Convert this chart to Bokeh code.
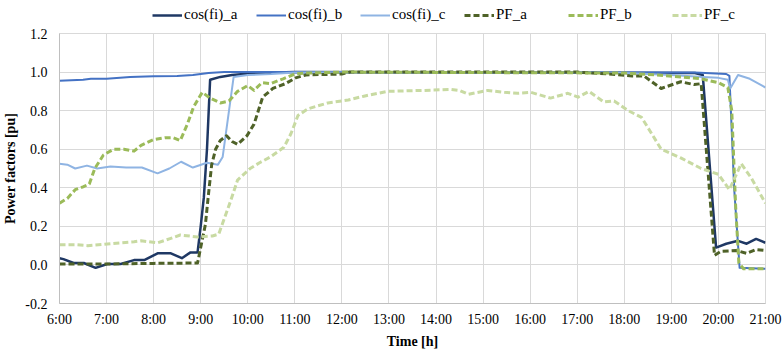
from bokeh.plotting import figure
from bokeh.layouts import column
from bokeh.models import Range1d, FixedTicker, NumeralTickFormatter, Legend, LegendItem
from bokeh.embed import file_html
from bokeh.resources import INLINE

# ---------------- data ----------------
x_ticks = [6, 7, 8, 9, 10, 11, 12, 13, 14, 15, 16, 17, 18, 19, 20, 21]
x_tick_labels = ["6:00", "7:00", "8:00", "9:00", "10:00", "11:00", "12:00", "13:00",
                 "14:00", "15:00", "16:00", "17:00", "18:00", "19:00", "20:00", "21:00"]
y_ticks = [-0.2, 0.0, 0.2, 0.4, 0.6, 0.8, 1.0, 1.2]

cos_a_t = ["6:00", "6:05", "6:18", "6:31", "6:46", "7:01", "7:18", "7:35", "7:48", "8:05",
           "8:22", "8:36", "8:47", "8:56", "9:00", "9:04", "9:08", "9:12", "9:25", "9:40",
           "9:55", "10:15", "11:00", "19:30", "19:40", "19:57", "20:10", "20:25", "20:36",
           "20:48", "21:00"]
cos_a_v = [0.035, 0.03, 0.01, 0.01, -0.015, 0.005, 0.005, 0.025, 0.025, 0.06,
           0.06, 0.035, 0.065, 0.065, 0.2, 0.35, 0.6, 0.96, 0.975, 0.985,
           0.99, 0.995, 1.0, 0.995, 0.985, 0.09, 0.11, 0.125, 0.11,
           0.135, 0.115]

cos_b_t = ["6:00", "6:30", "6:40", "7:00", "7:30", "8:00", "8:30", "8:50", "9:10", "9:30",
           "19:30", "20:10", "20:14", "20:20", "20:27", "21:00"]
cos_b_v = [0.955, 0.96, 0.965, 0.965, 0.975, 0.978, 0.98, 0.985, 0.995, 1.0,
           0.998, 0.99, 0.98, 0.4, -0.015, -0.02]

cos_c_t = ["6:00", "6:10", "6:20", "6:35", "6:48", "7:05", "7:25", "7:45", "8:05", "8:20",
           "8:35", "8:50", "9:08", "9:22", "9:28", "9:42", "10:00", "10:30", "11:00", "17:00",
           "18:00", "18:30", "19:00", "19:40", "20:00", "20:12", "20:15", "20:25", "20:40",
           "21:00"]
cos_c_v = [0.525, 0.52, 0.50, 0.515, 0.50, 0.51, 0.505, 0.505, 0.475, 0.50,
           0.535, 0.505, 0.53, 0.52, 0.56, 0.975, 0.985, 0.99, 0.998, 0.998,
           0.995, 0.99, 0.985, 0.975, 0.97, 0.96, 0.915, 0.985, 0.965,
           0.92]

pf_a_t = ["6:00", "7:00", "8:00", "8:56", "9:00", "9:06", "9:10", "9:14", "9:19", "9:25",
          "9:33", "9:40", "9:47", "9:59", "10:08", "10:19", "10:32", "10:48", "11:01", "11:14",
          "12:00", "12:10", "17:00", "17:40", "18:10", "18:25", "18:47", "19:12", "19:29",
          "19:38", "19:55", "20:03", "20:23", "20:36", "20:48", "21:00"]
pf_a_v = [0.005, 0.005, 0.008, 0.01, 0.09, 0.21, 0.37, 0.52, 0.6, 0.645,
          0.67, 0.64, 0.625, 0.67, 0.73, 0.87, 0.915, 0.94, 0.97, 0.985,
          0.99, 1.0, 1.0, 0.99, 0.98, 0.98, 0.915, 0.95, 0.935,
          0.94, 0.05, 0.07, 0.075, 0.06, 0.08, 0.075]

pf_b_t = ["6:00", "6:10", "6:20", "6:30", "6:38", "6:45", "6:56", "7:09", "7:22", "7:35",
          "7:44", "8:00", "8:15", "8:25", "8:34", "8:43", "8:51", "9:02", "9:12", "9:25",
          "9:36", "9:47", "10:00", "10:08", "10:18", "10:29", "10:45", "11:00", "11:15",
          "12:00", "18:00", "18:40", "19:12", "19:38", "20:00", "20:12", "20:17", "20:22",
          "20:26", "20:32", "21:00"]
pf_b_v = [0.32, 0.345, 0.39, 0.405, 0.42, 0.50, 0.57, 0.60, 0.60, 0.59,
          0.62, 0.65, 0.66, 0.66, 0.645, 0.73, 0.82, 0.895, 0.865, 0.84,
          0.85, 0.90, 0.93, 0.905, 0.945, 0.94, 0.965, 0.99, 0.995,
          1.0, 0.995, 0.985, 0.975, 0.965, 0.945, 0.92, 0.8, 0.3,
          0.01, -0.02, -0.02]

pf_c_t = ["6:00", "6:20", "6:36", "7:05", "7:35", "7:44", "8:05", "8:20", "8:34", "8:56",
          "9:15", "9:23", "9:38", "9:47", "10:03", "10:15", "10:29", "10:46", "10:55", "11:04",
          "11:17", "11:42", "12:08", "12:28", "12:58", "13:45", "14:19", "14:30", "14:41",
          "15:06", "15:27", "15:44", "16:01", "16:26", "16:48", "17:01", "17:15", "17:34",
          "17:47", "18:05", "18:22", "18:35", "18:47", "19:12", "19:38", "20:00", "20:14",
          "20:29", "20:42", "21:00"]
pf_c_v = [0.105, 0.105, 0.10, 0.11, 0.12, 0.125, 0.115, 0.135, 0.155, 0.145,
          0.15, 0.16, 0.33, 0.44, 0.50, 0.53, 0.56, 0.61, 0.68, 0.775,
          0.81, 0.84, 0.855, 0.875, 0.90, 0.905, 0.91, 0.905, 0.885,
          0.905, 0.895, 0.89, 0.895, 0.865, 0.89, 0.87, 0.90, 0.845,
          0.85, 0.80, 0.765, 0.68, 0.60, 0.555, 0.50, 0.47, 0.39,
          0.525, 0.45, 0.32]

series_names = ["cos(fi)_a", "cos(fi)_b", "cos(fi)_c", "PF_a", "PF_b", "PF_c"]


def to_hours(ts):
    out = []
    for s in ts:
        h, m = s.split(":")
        out.append(int(h) + int(m) / 60.0)
    return out


FONT = "Liberation Serif"
styles = [
    dict(color="#1F3864", line_width=2.5, line_dash="solid"),
    dict(color="#4472C4", line_width=2.0, line_dash="solid"),
    dict(color="#8FB4E3", line_width=2.0, line_dash="solid"),
    dict(color="#4F6228", line_width=3.0, line_dash="6 3"),
    dict(color="#9BBB59", line_width=3.0, line_dash="6 3"),
    dict(color="#C8DAA2", line_width=3.0, line_dash="6 3"),
]
data = [(cos_a_t, cos_a_v), (cos_b_t, cos_b_v), (cos_c_t, cos_c_v),
        (pf_a_t, pf_a_v), (pf_b_t, pf_b_v), (pf_c_t, pf_c_v)]

# ---------------- legend strip ----------------
lg = figure(width=783, height=25, output_backend="svg", toolbar_location=None,
            x_range=Range1d(0, 1), y_range=Range1d(0, 1),
            x_axis_type=None, y_axis_type=None,
            min_border_left=0, min_border_right=0, min_border_top=0, min_border_bottom=0)
lg.outline_line_color = None
lg.xgrid.visible = False
lg.ygrid.visible = False
lg.background_fill_color = "white"
lg.border_fill_color = "white"

items = []
for name, st in zip(series_names, styles):
    # off-range sample so the renderer has data; only its legend swatch is visible
    r = lg.line([-5, -4], [-5, -4], line_color=st["color"], line_width=st["line_width"],
                line_dash=st["line_dash"])
    items.append(LegendItem(label=name, renderers=[r]))

# frame of this strip is aligned with the main chart's frame (left edge at x=59)
legend = Legend(items=items, orientation="horizontal", location=(93, 2))
legend.label_text_font = FONT
legend.label_text_font_size = "15px"
legend.label_text_color = "#000000"
legend.glyph_width = 30
legend.glyph_height = 14
legend.label_standoff = 2
legend.label_width = 71
legend.spacing = 1
legend.padding = 0
legend.margin = 0
legend.border_line_color = None
legend.background_fill_alpha = 0
lg.add_layout(legend, "center")

# ---------------- main chart ----------------
p = figure(width=783, height=327, output_backend="svg", toolbar_location=None,
           x_range=Range1d(6, 21), y_range=Range1d(-0.2, 1.2),
           min_border_left=59, min_border_right=18, min_border_top=8, min_border_bottom=49)

p.background_fill_color = "white"
p.border_fill_color = "white"
p.outline_line_color = "#D9D9D9"

for name, (t, v), st in zip(series_names, data, styles):
    p.line(to_hours(t), v, line_color=st["color"], line_width=st["line_width"],
           line_dash=st["line_dash"], line_join="round")

p.xaxis.ticker = FixedTicker(ticks=x_ticks)
p.xaxis.major_label_overrides = {t: l for t, l in zip(x_ticks, x_tick_labels)}
p.yaxis.ticker = FixedTicker(ticks=y_ticks)
p.yaxis.formatter = NumeralTickFormatter(format="0.0")

for ax in (p.xaxis[0], p.yaxis[0]):
    ax.axis_line_color = "#BFBFBF"
    ax.major_tick_line_color = None
    ax.minor_tick_line_color = None
    ax.major_tick_out = 0
    ax.major_tick_in = 0
    ax.minor_tick_out = 0
    ax.major_label_text_font = FONT
    ax.major_label_text_font_size = "14px"
    ax.major_label_text_color = "#000000"
    ax.axis_label_text_font = FONT
    ax.axis_label_text_font_size = "14px"
    ax.axis_label_text_font_style = "bold"
    ax.axis_label_text_color = "#000000"

p.xaxis.axis_label = "Time [h]"
p.yaxis.axis_label = "Power factors [pu]"
p.xaxis.major_label_standoff = 8
p.xaxis.axis_label_standoff = 4
p.yaxis.major_label_standoff = 12
p.yaxis.axis_label_standoff = 4

p.xgrid.ticker = FixedTicker(ticks=x_ticks)
p.ygrid.ticker = FixedTicker(ticks=y_ticks)
p.xgrid.grid_line_color = "#D9D9D9"
p.ygrid.grid_line_color = "#D9D9D9"

layout = column(lg, p, spacing=0)
open("out.html", "w").write(file_html(layout, INLINE))
